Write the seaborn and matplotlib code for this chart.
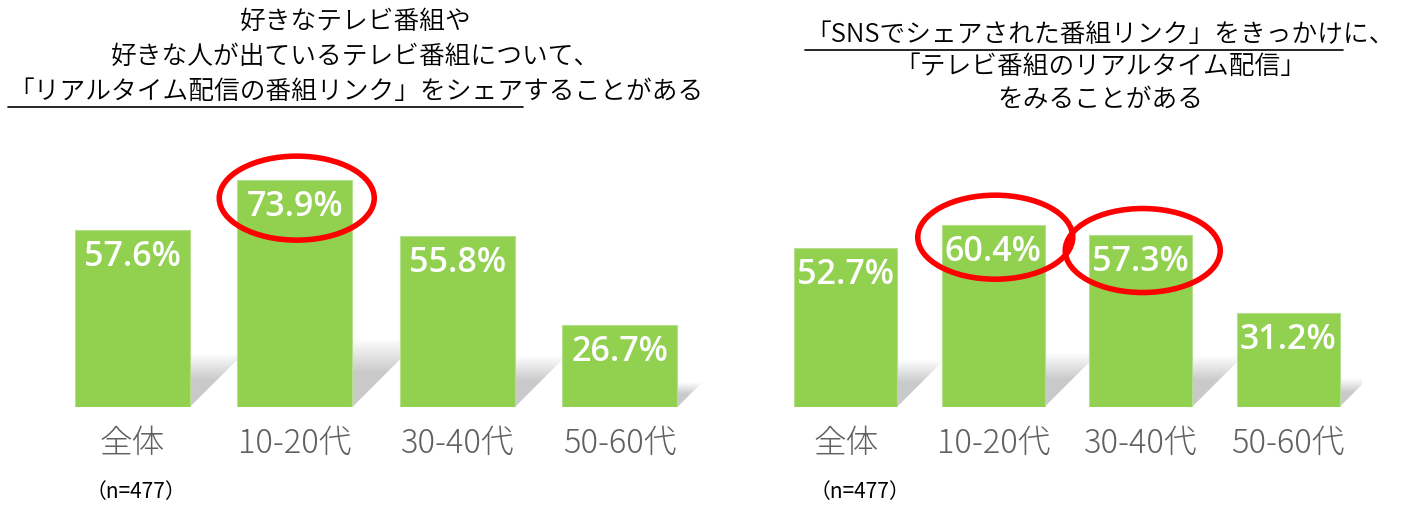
import matplotlib.pyplot as plt
import seaborn as sns
import numpy as np
from matplotlib.patches import Ellipse, Polygon
from matplotlib.lines import Line2D

# data
categories = ['全体', '10-20代', '30-40代', '50-60代']
share_values = [57.6, 73.9, 55.8, 26.7]
watch_values = [52.7, 60.4, 57.3, 31.2]
share_highlight = [1]
watch_highlight = [1, 2]
sample_note = '（n=477）'

share_title = ['好きなテレビ番組や',
               '好きな人が出ているテレビ番組について、',
               '「リアルタイム配信の番組リンク」をシェアすることがある']
share_underline = '「リアルタイム配信の番組リンク」をシェア'
watch_title = ['「SNSでシェアされた番組リンク」をきっかけに、',
               '「テレビ番組のリアルタイム配信」',
               'をみることがある']
watch_underline = '「SNSでシェアされた番組リンク」をきっかけ'

sns.set_theme(style='white')
plt.rcParams['font.family'] = ['Noto Sans CJK JP', 'DejaVu Sans']

W, H = 1402, 513
fig = plt.figure(figsize=(W / 100, H / 100), dpi=100)

GREEN = '#92D050'


def px(x, y, w, h):
    return [x / W, (H - y - h) / H, w / W, h / H]


def draw_panel(ax, values, highlight, bar_w, ax_w_px, ax_h_px, offsets):
    sns.barplot(x=categories, y=values, ax=ax, color=GREEN, width=bar_w,
                saturation=1, edgecolor='#b5df8c', linewidth=0.8, zorder=3)
    ppx = ax_w_px / 4
    ppy = ax_h_px / 100

    # soft floor shadow behind each bar (gradient clipped to a skewed shape)
    grad = np.zeros((64, 2, 4))
    grad[..., :3] = 0.79
    a = np.clip((1 - np.linspace(0, 1, 64)) * 2.0, 0, 1)
    grad[..., 3] = a[:, None]
    for i, v in enumerate(values):
        x0, x1 = i - bar_w / 2, i + bar_w / 2
        hgt = 0.3 * v
        d = hgt * ppy / ppx
        poly = Polygon([(x0, 0), (x1, 0), (x1 + d, hgt), (x0 + d, hgt)],
                       closed=True, facecolor='none', edgecolor='none',
                       transform=ax.transData)
        ax.add_patch(poly)
        im = ax.imshow(grad, extent=[x0, x1 + d, 0, hgt], origin='lower',
                       aspect='auto', interpolation='bilinear', zorder=1)
        im.set_clip_path(poly)

    ax.set_xlim(-0.5, 3.5)
    ax.set_ylim(0, 100)

    for i, v in enumerate(values):
        ax.annotate(f'{v:.1f}%', (i, v), xytext=(0, -19.5), textcoords='offset points',
                    ha='center', va='center', color='white', fontsize=24.5,
                    fontweight='semibold', zorder=5,
                    family=['Open Sans', 'DejaVu Sans'])

    for i, off in zip(highlight, offsets):
        e = Ellipse((i + 2 / ppx, values[i] - off / ppy), 155 / ppx, 84 / ppy,
                    fill=False, edgecolor='#ff0000', linewidth=4, zorder=6)
        ax.add_patch(e)

    ax.set_xlabel('')
    ax.set_ylabel('')
    ax.set_yticks([])
    ax.tick_params(axis='x', length=0, pad=14, labelsize=23.5, labelcolor='#606060')
    for lab in ax.get_xticklabels():
        lab.set_fontweight('light')
    for s in ax.spines.values():
        s.set_visible(False)
    ax.patch.set_alpha(0)


axL = fig.add_axes(px(51, 100, 650, 307))
draw_panel(axL, share_values, share_highlight, 0.71, 650, 307, [18])
axR = fig.add_axes(px(772, 106, 590, 301))
draw_panel(axR, watch_values, watch_highlight, 0.695, 590, 301, [12, 16])


def title_block(lines, cx, cys, underline_prefix, ul_line, ul_gap):
    texts = []
    for line, cy in zip(lines, cys):
        t = fig.text(cx / W, 1 - cy / H, line, ha='center', va='center',
                     fontsize=18.5, fontweight=350, color='black')
        texts.append(t)
    fig.canvas.draw()
    r = fig.canvas.get_renderer()
    full = texts[ul_line]
    ext = full.get_window_extent(r)
    probe = fig.text(ext.x0 / W, 0.5, underline_prefix, fontsize=18.5,
                     fontweight=350, alpha=0)
    pext = probe.get_window_extent(r)
    probe.remove()
    y = 1 - (cys[ul_line] + ul_gap) / H
    fig.add_artist(Line2D([ext.x0 / W, (ext.x0 + pext.width) / W], [y, y],
                          color='black', linewidth=1.2, transform=fig.transFigure))


title_block(share_title, 356, [22, 57, 92], share_underline, 2, 15)
title_block(watch_title, 1100, [35, 67, 100], watch_underline, 0, 15)

fig.text(86 / W, 1 - 492 / H, sample_note, ha='left', va='center', fontsize=15, color='black')
fig.text(810 / W, 1 - 492 / H, sample_note, ha='left', va='center', fontsize=15, color='black')

plt.savefig('out.png', dpi=100, facecolor='white')
